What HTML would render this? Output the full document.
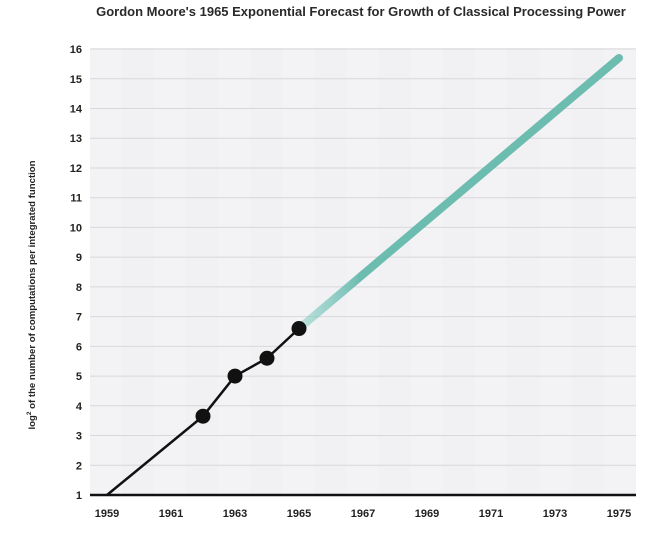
<!DOCTYPE html>
<html><head><meta charset="utf-8"><style>
body{margin:0;background:#fff;width:660px;height:530px;overflow:hidden;font-family:"Liberation Sans",sans-serif}
</style></head><body>
<svg id="chart" width="660" height="530">
<defs><linearGradient id="fade" gradientUnits="userSpaceOnUse" x1="299" y1="0" x2="360" y2="0">
<stop offset="0" stop-color="#7ecbc0" stop-opacity="0.45"/><stop offset="1" stop-color="#6dbcb0"/></linearGradient></defs>
<text x="361" y="16" text-anchor="middle" font-size="13" font-weight="bold" fill="#2a2a2a">Gordon Moore's 1965 Exponential Forecast for Growth of Classical Processing Power</text>
<text transform="translate(35,295) rotate(-90)" text-anchor="middle" font-size="9.6" font-weight="bold" fill="#222">log<tspan font-size="6.5" dy="-4">2</tspan><tspan dy="4"> of the number of computations per integrated function</tspan></text>
<g id="bg"></g><g id="grid"></g><g id="axes"></g><g id="marks"></g>
</svg>
<script>
const yTicks=[1,2,3,4,5,6,7,8,9,10,11,12,13,14,15,16];
const xTicks=[1959,1961,1963,1965,1967,1969,1971,1973,1975];
const histYears=[1959,1962,1963,1964,1965];
const histValues=[1,3.65,5.0,5.6,6.6];
const pointYears=[1962,1963,1964,1965];
const pointValues=[3.65,5.0,5.6,6.6];
const forecastYears=[1965,1975];
const forecastValues=[6.6,15.7];
const X=y=>107+(y-1959)*32;
const Y=v=>495-(v-1)*29.73;
const NS="http://www.w3.org/2000/svg";
function mk(t,a,p){const e=document.createElementNS(NS,t);for(const k in a)e.setAttribute(k,a[k]);document.getElementById(p).appendChild(e);return e;}
let r=mk('rect',{x:90,y:48,width:546,height:447,fill:'#f1f1f4'},'bg');


for(let i=0;i<17;i++){if(i%2)continue;const s=mk('rect',{x:90+i*32.1,y:48,width:32,height:447,fill:'#f3f3f5'},'bg');

}
yTicks.forEach(v=>{if(v>1){const l=mk('line',{x1:90,x2:636,y1:Y(v),y2:Y(v),stroke:'#d8d8dc','stroke-width':1},'grid');

}
const t=mk('text',{x:82,y:Y(v)+4,'text-anchor':'end','font-size':11,'font-weight':'bold',fill:'#222'},'axes');t.textContent=v;

});
xTicks.forEach(v=>{const t=mk('text',{x:X(v),y:517,'text-anchor':'middle','font-size':11,'font-weight':'bold',fill:'#222'},'axes');t.textContent=v;

});
const ax=mk('line',{x1:90,x2:636,y1:495,y2:495,stroke:'#111','stroke-width':2.5},'axes');


const f=mk('line',{x1:X(forecastYears[0]),y1:Y(forecastValues[0]),x2:X(forecastYears[1]),y2:Y(forecastValues[1]),stroke:'url(#fade)','stroke-width':8,'stroke-linecap':'round'},'marks');


const h=mk('polyline',{points:histYears.map((y,i)=>X(y)+','+Y(histValues[i])).join(' '),fill:'none',stroke:'#111','stroke-width':2.5},'marks');


pointYears.forEach((y,i)=>{const c=mk('circle',{cx:X(y),cy:Y(pointValues[i]),r:7.5,fill:'#111'},'marks');

});
</script>
</body></html>
